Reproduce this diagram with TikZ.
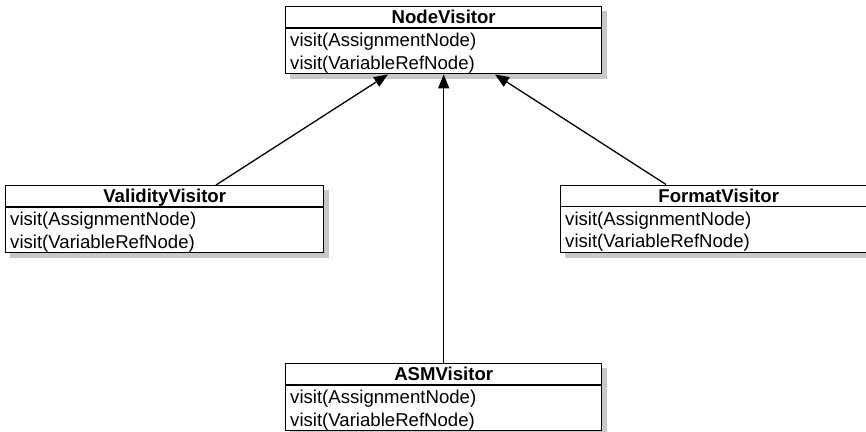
\documentclass[tikz,border=0pt]{standalone}
\usepackage{fontspec}
\setmainfont{Liberation Sans}
\usetikzlibrary{arrows.meta}

\definecolor{shadowgray}{RGB}{200,200,200}

\tikzset{
  classbox/.style={draw=black, line width=1.4pt, fill=white, inner sep=0pt,
    minimum height=67pt, anchor=north west},
  divider/.style={draw=black, line width=1.4pt},
  classtitle/.style={inner sep=0pt, anchor=base},
  member/.style={inner sep=0pt, anchor=base west},
  inherits/.style={draw=black, line width=1.3pt, -{Triangle[length=14pt,width=11pt]}}
}

% \umlclass{name}{x}{y}{width}{class name}
\newcommand\umlclass[5]{%
  \node[classbox, minimum width=#4pt] (#1) at (#2,#3) {};
  % drop shadow: strips along the right and bottom sides
  \fill[shadowgray] ([yshift=-5pt]#1.north east) rectangle ([xshift=5pt,yshift=-5pt]#1.south east);
  \fill[shadowgray] ([xshift=5pt]#1.south west) rectangle ([xshift=5pt,yshift=-5pt]#1.south east);
  \draw[divider] ([yshift=-22pt]#1.north west) -- ([yshift=-22pt]#1.north east);
  \node[classtitle] (#1-title) at ([yshift=-17.5pt]#1.north) {\bfseries #5};
  \node[member] (#1-m1) at ([xshift=5pt,yshift=-40.5pt]#1.north west) {visit(AssignmentNode)};
  \node[member] (#1-m2) at ([xshift=5pt,yshift=-63pt]#1.north west) {visit(VariableRefNode)};
}

\begin{document}
\begin{tikzpicture}[x=1pt, y=-1pt, font=\fontsize{18.6}{22}\selectfont]
  \useasboundingbox (0,0) rectangle (866,431);
  \clip (0,0) rectangle (866,431);

  \umlclass{nv}{285}{6}{316}{NodeVisitor}
  \umlclass{vv}{5}{185}{318}{ValidityVisitor}
  \umlclass{fv}{560}{184.5}{316}{FormatVisitor}
  \umlclass{asm}{285}{363}{316}{ASMVisitor}

  % generalisation arrows to the base visitor
  \draw[inherits] ([xshift=211pt]vv.north west) -- ([xshift=103pt]nv.south west);
  \draw[inherits] (asm.north) -- (nv.south);
  \draw[inherits] ([xshift=106pt]fv.north west) -- ([xshift=210pt]nv.south west);
\end{tikzpicture}
\end{document}
